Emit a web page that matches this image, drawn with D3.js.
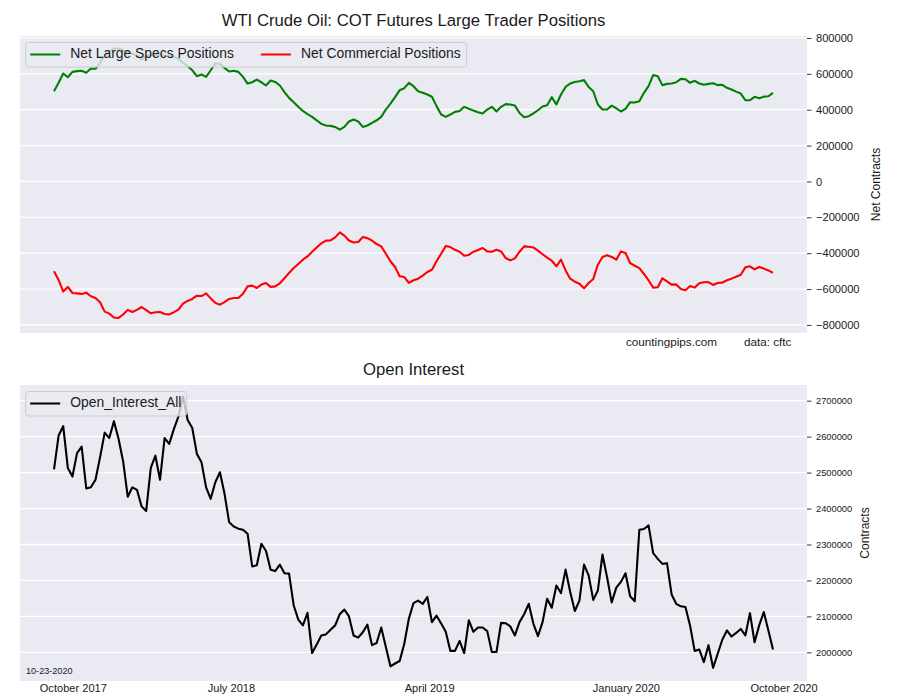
<!DOCTYPE html>
<html><head><meta charset="utf-8">
<script src="https://cdn.jsdelivr.net/npm/d3@7"></script>
<style>body{margin:0;background:#fff;} text{font-family:"Liberation Sans",Arial,sans-serif;fill:#1a1a1a;}</style>
</head><body><svg id="c" width="900" height="700"></svg>
<script>
const netSpecs = [503000,550000,602000,581000,611000,615000,617000,606000,630000,628000,
661000,702000,727000,740000,741000,732000,721000,712000,702000,680000,
699000,706000,702000,706000,702000,702000,695000,684000,661000,643000,
620000,587000,596000,583000,620000,658000,656000,633000,613000,617000,
611000,583000,546000,553000,568000,553000,535000,563000,555000,535000,
498000,466000,442000,416000,393000,375000,360000,341000,321000,312000,
310000,304000,289000,304000,334000,345000,334000,304000,312000,327000,
341000,360000,401000,434000,470000,509000,520000,550000,531000,503000,
494000,485000,472000,420000,373000,360000,373000,388000,393000,416000,
405000,395000,386000,379000,401000,416000,390000,416000,431000,429000,
423000,382000,358000,364000,379000,397000,418000,425000,470000,429000,
485000,527000,546000,555000,559000,565000,527000,503000,429000,401000,
401000,423000,408000,390000,405000,442000,440000,447000,494000,531000,
593000,587000,537000,544000,546000,553000,572000,570000,550000,561000,
546000,539000,544000,548000,537000,539000,522000,513000,501000,490000,
453000,453000,472000,464000,473000,475000,494000];
const netCommercial = [-501000,-549000,-614000,-588000,-622000,-624000,-627000,-620000,-640000,-650000,
-674000,-726000,-737000,-759000,-761000,-742000,-716000,-728000,-716000,-700000,
-718000,-735000,-729000,-728000,-739000,-741000,-729000,-715000,-681000,-666000,
-655000,-637000,-639000,-624000,-652000,-677000,-687000,-673000,-655000,-650000,
-650000,-626000,-585000,-581000,-594000,-575000,-566000,-588000,-585000,-568000,
-540000,-510000,-483000,-460000,-436000,-418000,-392000,-368000,-345000,-330000,
-329000,-312000,-284000,-302000,-329000,-340000,-338000,-310000,-316000,-330000,
-349000,-362000,-403000,-445000,-477000,-529000,-533000,-566000,-551000,-542000,
-525000,-505000,-492000,-445000,-403000,-360000,-366000,-381000,-392000,-414000,
-410000,-392000,-382000,-371000,-390000,-392000,-381000,-390000,-427000,-440000,
-429000,-392000,-362000,-364000,-368000,-386000,-406000,-425000,-442000,-473000,
-436000,-496000,-542000,-559000,-570000,-596000,-566000,-544000,-464000,-421000,
-412000,-421000,-436000,-390000,-399000,-455000,-470000,-483000,-516000,-551000,
-592000,-590000,-540000,-557000,-575000,-574000,-600000,-607000,-583000,-592000,
-568000,-562000,-561000,-577000,-566000,-564000,-551000,-542000,-531000,-520000,
-479000,-473000,-490000,-477000,-486000,-496000,-510000];
const openInterest = [2509000,2603000,2629000,2513000,2489000,2554000,2572000,2456000,2459000,2480000,
2543000,2611000,2596000,2643000,2594000,2531000,2433000,2459000,2452000,2406000,
2393000,2513000,2547000,2480000,2596000,2580000,2621000,2656000,2712000,2646000,
2624000,2552000,2529000,2459000,2427000,2473000,2501000,2441000,2362000,2350000,
2344000,2341000,2330000,2239000,2242000,2302000,2282000,2230000,2226000,2244000,
2220000,2219000,2131000,2091000,2075000,2110000,1998000,2022000,2047000,2050000,
2063000,2075000,2106000,2119000,2100000,2047000,2041000,2056000,2077000,2020000,
2026000,2069000,2015000,1961000,1969000,1976000,2024000,2094000,2137000,2144000,
2135000,2154000,2084000,2102000,2080000,2057000,2004000,2004000,2032000,1998000,
2089000,2057000,2069000,2069000,2059000,2001000,2001000,2082000,2081000,2072000,
2047000,2084000,2106000,2135000,2080000,2045000,2084000,2149000,2124000,2186000,
2165000,2230000,2168000,2115000,2144000,2244000,2214000,2146000,2172000,2272000,
2209000,2139000,2180000,2196000,2220000,2156000,2142000,2341000,2343000,2353000,
2276000,2260000,2246000,2248000,2161000,2135000,2128000,2126000,2075000,2004000,
2008000,1973000,2020000,1957000,1996000,2035000,2061000,2044000,2054000,2065000,
2047000,2109000,2028000,2075000,2112000,2061000,2008000];
const xTickLabels = ["October 2017","July 2018","April 2019","January 2020","October 2020"];
const xTickIndex = [4.2, 38.5, 81.5, 124.2, 158.4];
const topYTicks = [-800000,-600000,-400000,-200000,0,200000,400000,600000,800000];
const bottomYTicks = [2000000,2100000,2200000,2300000,2400000,2500000,2600000,2700000];
const topSeries = [
  {name:"Net Large Specs Positions", values: netSpecs, color:"#008000"},
  {name:"Net Commercial Positions", values: netCommercial, color:"#ff0000"}
];
const bottomSeries = [{name:"Open_Interest_All", values: openInterest, color:"#000000"}];

const svg = d3.select("#c");
const L = 20, R = 807;
const N = netSpecs.length;
const x = d3.scaleLinear().domain([0, N-1]).range([54, 773]);

function panel(top, bottom, domain, ticks, series, title, ylabel, tickFont, labelX, legendW) {
  const y = d3.scaleLinear().domain(domain).range([bottom, top]);
  const g = svg.append("g");
  g.append("rect").attr("x", L).attr("y", top).attr("width", R-L).attr("height", bottom-top).attr("fill", "#eaeaf2");
  g.selectAll("line.grid").data(ticks).join("line").attr("class","grid")
    .attr("x1", L).attr("x2", R).attr("y1", d=>y(d)).attr("y2", d=>y(d))
    .attr("stroke", "#fff").attr("stroke-width", 1.3);
  const ax = g.append("g").attr("transform", `translate(${R},0)`)
    .call(d3.axisRight(y).tickValues(ticks).tickSize(4.5).tickPadding(4.5).tickFormat(d3.format("d")));
  ax.select(".domain").remove();
  ax.selectAll(".tick line").attr("stroke", "#333");
  ax.selectAll(".tick text").attr("font-size", tickFont).attr("fill", "#1a1a1a")
    .attr("font-family", '"Liberation Sans",Arial,sans-serif');
  const line = d3.line().x((d,i)=>x(i)).y(d=>y(d));
  series.forEach(s => {
    g.append("path").attr("d", line(s.values)).attr("fill","none").attr("stroke", s.color)
      .attr("stroke-width", 2.1).attr("stroke-linejoin","round");
  });
  g.append("text").attr("x", (L+R)/2).attr("y", top-14).attr("text-anchor","middle")
    .attr("dominant-baseline","middle").attr("font-size", 16.7).text(title);
  g.append("text").attr("transform", `translate(${labelX},${(top+bottom)/2}) rotate(-90)`)
    .attr("text-anchor","middle").attr("dominant-baseline","middle").attr("font-size", 12).text(ylabel);
  // legend
  const lg = g.append("g").attr("transform", `translate(25.7,${top+6.5})`);
  lg.append("rect").attr("width", legendW).attr("height", 24.5).attr("rx", 3)
    .attr("fill", "#eaeaf2").attr("fill-opacity", 0.8).attr("stroke", "#cccccc").attr("stroke-width", 1);
  let cx = 4.5;
  series.forEach((s, k) => {
    const item = lg.append("g").attr("transform", `translate(${cx},12)`);
    item.append("line").attr("x1", 0).attr("x2", 30).attr("stroke", s.color).attr("stroke-width", 2);
    const t = item.append("text").attr("x", 40).attr("dominant-baseline","middle").attr("font-size", 13.9).text(s.name);
    cx += 40 + t.node().getComputedTextLength() + 27;
  });
  return y;
}

panel(36, 333, [-845000, 811000], topYTicks, topSeries,
  "WTI Crude Oil: COT Futures Large Trader Positions", "Net Contracts", 11.1, 877, 441);
panel(385, 681, [1920300, 2743600], bottomYTicks, bottomSeries,
  "Open Interest", "Contracts", 9.3, 866, 161);

svg.append("text").attr("x", 626).attr("y", 343).attr("dominant-baseline","middle").attr("font-size", 11.7).text("countingpips.com");
svg.append("text").attr("x", 744).attr("y", 343).attr("dominant-baseline","middle").attr("font-size", 11.7).text("data: cftc");
svg.append("text").attr("x", 26).attr("y", 671.5).attr("dominant-baseline","middle").attr("font-size", 9.1).text("10-23-2020");

svg.append("g").selectAll("text").data(xTickLabels).join("text")
  .attr("x", (d,i)=>x(xTickIndex[i])).attr("y", 689).attr("text-anchor","middle")
  .attr("dominant-baseline","middle").attr("font-size", 11.1).text(d=>d);
</script></body></html>
